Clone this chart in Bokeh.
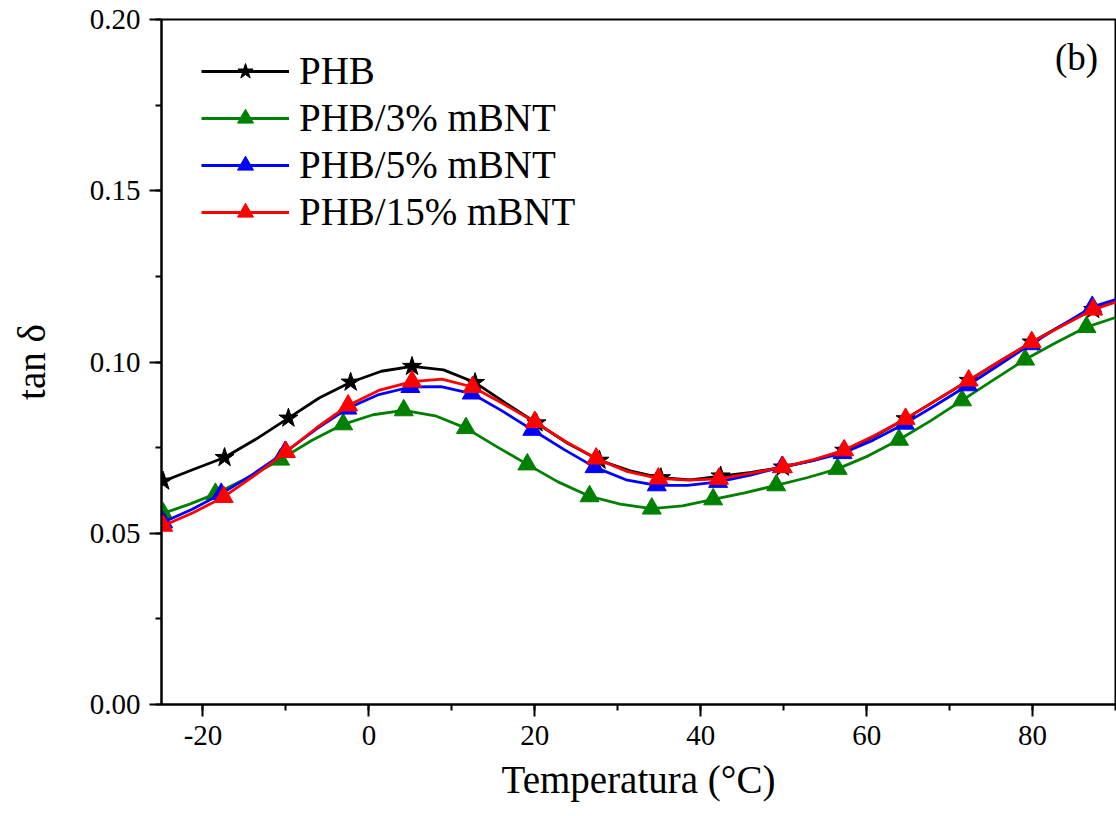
from bokeh.plotting import figure
from bokeh.models import Legend, LegendItem, FixedTicker, Label
from bokeh.embed import file_html
from bokeh.resources import INLINE

FONT = "Liberation Serif"

# ---- data ----
phb_t = [-24.8, -21.1, -17.4, -13.6, -9.7, -6.0, -2.2, 1.5, 5.2, 9.0, 12.8, 16.5, 20.2, 24.0, 27.8, 31.5,
         35.2, 38.8, 42.4, 46.1, 49.9, 53.6, 57.3, 61.0, 64.7, 68.5, 72.3, 76.1, 79.9, 83.6, 87.3, 90.0]
phb_v = [0.0652, 0.0687, 0.0721, 0.0775, 0.0836, 0.0895, 0.0941, 0.0973, 0.0987, 0.0977, 0.0940, 0.0880,
         0.0822, 0.0762, 0.0713, 0.0682, 0.0662, 0.0656, 0.0667, 0.0678, 0.0693, 0.0713, 0.0742, 0.0784,
         0.0834, 0.0890, 0.0946, 0.1003, 0.1058, 0.1108, 0.1153, 0.1180]

m3_t = [-24.8, -21.6, -18.5, -14.6, -10.7, -6.9, -3.1, 0.5, 4.2, 8.0, 11.7, 15.4, 19.1, 22.8, 26.6, 30.3,
        34.1, 37.8, 41.5, 45.3, 49.1, 52.8, 56.5, 60.2, 63.9, 67.7, 71.5, 75.3, 79.1, 82.8, 86.5, 90.0]
m3_v = [0.0558, 0.0585, 0.0615, 0.0662, 0.0715, 0.0771, 0.0818, 0.0846, 0.0859, 0.0843, 0.0807, 0.0753,
        0.0701, 0.0650, 0.0608, 0.0585, 0.0572, 0.0580, 0.0599, 0.0618, 0.0640, 0.0662, 0.0688, 0.0726,
        0.0773, 0.0828, 0.0888, 0.0948, 0.1007, 0.1056, 0.1102, 0.1130]

m5_t = [-24.8, -21.3, -17.8, -14.0, -10.1, -6.3, -2.6, 1.2, 5.0, 8.7, 12.4, 16.0, 19.7, 23.5, 27.2, 31.0,
        34.7, 38.4, 42.1, 46.0, 49.8, 53.5, 57.1, 60.8, 64.6, 68.4, 72.2, 76.0, 79.8, 83.5, 87.2, 90.0]
m5_v = [0.0532, 0.0570, 0.0615, 0.0672, 0.0737, 0.0805, 0.0864, 0.0905, 0.0927, 0.0928, 0.0908, 0.0858,
        0.0802, 0.0745, 0.0693, 0.0656, 0.0640, 0.0640, 0.0650, 0.0670, 0.0693, 0.0712, 0.0734, 0.0772,
        0.0820, 0.0875, 0.0932, 0.0992, 0.1052, 0.1107, 0.1161, 0.1182]

m15_t = [-24.8, -21.2, -17.5, -13.8, -10.0, -6.3, -2.5, 1.3, 5.2, 8.8, 12.5, 16.2, 20.0, 23.7, 27.4, 31.2,
         34.9, 38.5, 42.2, 46.0, 49.9, 53.6, 57.3, 61.0, 64.7, 68.5, 72.3, 76.1, 79.9, 83.6, 87.3, 90.0]
m15_v = [0.0522, 0.0560, 0.0606, 0.0668, 0.0737, 0.0808, 0.0873, 0.0918, 0.0943, 0.0950, 0.0927, 0.0878,
         0.0825, 0.0768, 0.0718, 0.0680, 0.0660, 0.0655, 0.0659, 0.0675, 0.0693, 0.0715, 0.0742, 0.0786,
         0.0834, 0.0890, 0.0946, 0.1003, 0.1058, 0.1106, 0.1153, 0.1175]

labels = ["PHB", "PHB/3% mBNT", "PHB/5% mBNT", "PHB/15% mBNT"]
colors = ["black", "#008000", "#0000ff", "#ff0000"]
markers = ["star", "triangle", "triangle", "triangle"]
x_ticks = [-20, 0, 20, 40, 60, 80]
y_ticks = [0.00, 0.05, 0.10, 0.15, 0.20]
y_tick_labels = ["0.00", "0.05", "0.10", "0.15", "0.20"]

p = figure(width=1116, height=816, x_range=(-25, 90), y_range=(0, 0.2),
           output_backend="svg", toolbar_location=None,
           min_border_left=161, min_border_right=1, min_border_top=19, min_border_bottom=112)
p.background_fill_color = "white"
p.border_fill_color = "white"
p.grid.visible = False
p.outline_line_color = "black"
p.outline_line_width = 2

p.xaxis.ticker = FixedTicker(ticks=x_ticks, minor_ticks=[-20, -10, 0, 10, 20, 30, 40, 50, 60, 70, 80, 90])
p.yaxis.ticker = FixedTicker(ticks=y_ticks, minor_ticks=[0, 0.025, 0.05, 0.075, 0.1, 0.125, 0.15, 0.175, 0.2])
p.xaxis.major_label_overrides = {t: str(t) for t in x_ticks}
p.yaxis.major_label_overrides = {t: s for t, s in zip(y_ticks, y_tick_labels)}

for ax in (p.xaxis[0], p.yaxis[0]):
    ax.axis_line_width = 2
    ax.axis_line_color = "black"
    ax.major_tick_line_width = 2
    ax.minor_tick_line_width = 2
    ax.major_tick_out = 12
    ax.major_tick_in = 0
    ax.minor_tick_out = 6
    ax.minor_tick_in = 0
    ax.major_label_text_font = FONT
    ax.major_label_text_font_size = "29px"
    ax.major_label_text_color = "black"
    ax.axis_label_text_font = FONT
    ax.axis_label_text_font_size = "39px"
    ax.axis_label_text_font_style = "normal"
    ax.axis_label_text_color = "black"

p.xaxis.axis_label = "Temperatura (°C)"
p.yaxis.axis_label = "tan δ"
p.xaxis.major_label_standoff = 9
p.yaxis.major_label_standoff = 9
p.xaxis.axis_label_standoff = 10
p.yaxis.axis_label_standoff = 34

series = [(phb_t, phb_v), (m3_t, m3_v), (m5_t, m5_v), (m15_t, m15_v)]
items = []
for (t, v), lab, col, mk in zip(series, labels, colors, markers):
    lr = p.line(t, v, line_color=col, line_width=2.8)
    mt = t[0:31:2]
    mv = v[0:31:2]
    sz = 20 if mk == "star" else 19
    sr = p.scatter(mt, mv, marker=mk, size=sz, fill_color=col, line_color=col)
    items.append(LegendItem(label=lab, renderers=[lr, sr]))

legend = Legend(items=items, location=(40, 470), orientation="vertical",
                glyph_width=88, glyph_height=40, label_height=40, spacing=2,
                padding=5, margin=0, label_standoff=10,
                label_text_font=FONT, label_text_font_size="39px", label_text_color="black",
                border_line_color=None, background_fill_alpha=0)
p.add_layout(legend, "center")

p.add_layout(Label(x=85.3, y=0.189, text="(b)", text_font=FONT, text_font_size="37px",
                   text_align="center", text_baseline="middle", text_color="black"))

open("out.html", "w").write(file_html(p, INLINE))
